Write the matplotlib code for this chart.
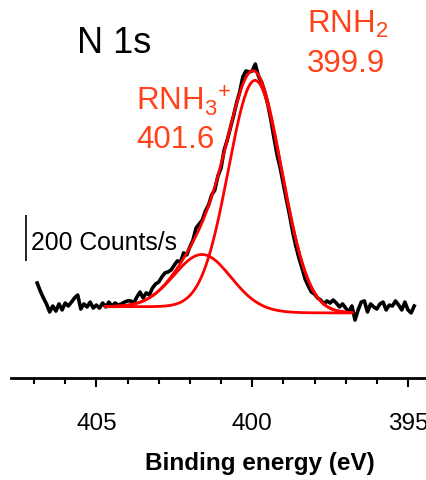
import numpy as np
import matplotlib
matplotlib.use("Agg")
import matplotlib.pyplot as plt

plt.rcParams["font.family"] = ["Liberation Sans", "DejaVu Sans"]
plt.rcParams["mathtext.fontset"] = "custom"
plt.rcParams["mathtext.rm"] = "Liberation Sans"
plt.rcParams["mathtext.it"] = "Liberation Sans:italic"
plt.rcParams["mathtext.bf"] = "Liberation Sans:bold"

# Measured N 1s spectrum (binding energy in eV, intensity in counts/s)
energy = np.linspace(406.9, 394.8, 122)
counts = [
    1413, 1378, 1348, 1322, 1287, 1313, 1291, 1322, 1296, 1326,
    1313, 1330, 1348, 1361, 1300, 1322, 1309, 1330, 1304, 1317,
    1304, 1326, 1309, 1330, 1313, 1326, 1317, 1322, 1330, 1335,
    1335, 1326, 1352, 1374, 1348, 1370, 1361, 1391, 1409, 1417,
    1439, 1457, 1461, 1470, 1491, 1509, 1504, 1544, 1535, 1570,
    1600, 1652, 1670, 1687, 1726, 1752, 1796, 1817, 1878, 1913,
    1991, 2035, 2087, 2139, 2196, 2244, 2309, 2335, 2330, 2335,
    2365, 2313, 2287, 2244, 2191, 2122, 2044, 1970, 1913, 1844,
    1774, 1709, 1635, 1574, 1522, 1478, 1430, 1400, 1374, 1365,
    1348, 1339, 1322, 1335, 1326, 1339, 1326, 1309, 1322, 1304,
    1287, 1313, 1252, 1296, 1330, 1335, 1287, 1322, 1309, 1300,
    1322, 1330, 1296, 1317, 1313, 1335, 1317, 1296, 1330, 1296,
    1283, 1313,
]

# Peak fit components: position (eV), height (counts/s), Gaussian sigma (eV)
peak_names = ["RNH$_\\mathrm{2}$", "RNH$_\\mathrm{3}{}^\\mathrm{+}$"]
peak_pos = [399.9, 401.6]
peak_height = [1000, 230]
peak_sigma = [0.86, 0.90]

# Fit window and background end levels
fit_range = [404.7, 396.8]
bg_ends = [1310, 1283]

scale_bar = 200  # counts/s

red = "#ff0000"
label_red = "#ff4219"

# ---- fitted curves with a Shirley-type background
e_fit = np.linspace(fit_range[0], fit_range[1], 400)
comps = [h * np.exp(-(e_fit - p) ** 2 / (2 * s ** 2))
         for p, h, s in zip(peak_pos, peak_height, peak_sigma)]
total = np.sum(comps, axis=0)
# cumulative area from the low-energy end of the window
cum = np.cumsum(total[::-1])[::-1]
cum = (cum - cum[-1]) / (cum[0] - cum[-1])
bg = bg_ends[1] + (bg_ends[0] - bg_ends[1]) * cum

W, H = 427, 480
fig = plt.figure(figsize=(W / 100, H / 100), dpi=100)
ax = fig.add_axes([11 / W, 102 / H, (W - 11) / W, 378 / H])

ax.plot(energy, counts, color="black", lw=2.6, zorder=2)
ax.plot(e_fit, bg + total, color=red, lw=2.0, zorder=3)
for c in comps:
    ax.plot(e_fit, bg + c, color=red, lw=2.0, zorder=3)

ax.set_xlim(407.74, 394.39)
ax.set_ylim(1000, 1000 + 378 / 0.23)

# scale bar
ax.plot([407.26, 407.26], [1510, 1510 + scale_bar], color="black", lw=1.2,
        solid_capstyle="butt")

for s in ("left", "right", "top"):
    ax.spines[s].set_visible(False)
ax.spines["bottom"].set_linewidth(2.0)
ax.set_yticks([])
ax.set_xticks([405, 400, 395])
ax.set_xticks(np.arange(395, 408, 1), minor=True)
ax.tick_params(axis="x", which="major", direction="out", length=6.5,
               width=1.5, labelsize=17.5, pad=18.5)
ax.tick_params(axis="x", which="minor", direction="out", length=4.3,
               width=1.5)

def ftext(x, y, s, **kw):
    fig.text(x / W, 1 - y / H, s, va="baseline", ha="left", **kw)

ftext(77, 53, "N 1s", fontsize=26, color="black")
ftext(307, 33, peak_names[0], fontsize=22.5, color=label_red)
ftext(307, 72, f"{peak_pos[0]:.1f}", fontsize=22.5, color=label_red)
ftext(136, 110, peak_names[1], fontsize=22.5, color=label_red)
ftext(136, 148, f"{peak_pos[1]:.1f}", fontsize=22.5, color=label_red)
ftext(31, 250, f"{scale_bar} Counts/s", fontsize=17.8, color="black")

fig.text(260 / W, 1 - 470 / H, "Binding energy (eV)", ha="center",
         va="baseline", fontsize=17.5, fontweight="bold")

fig.savefig("out.png", dpi=100)
